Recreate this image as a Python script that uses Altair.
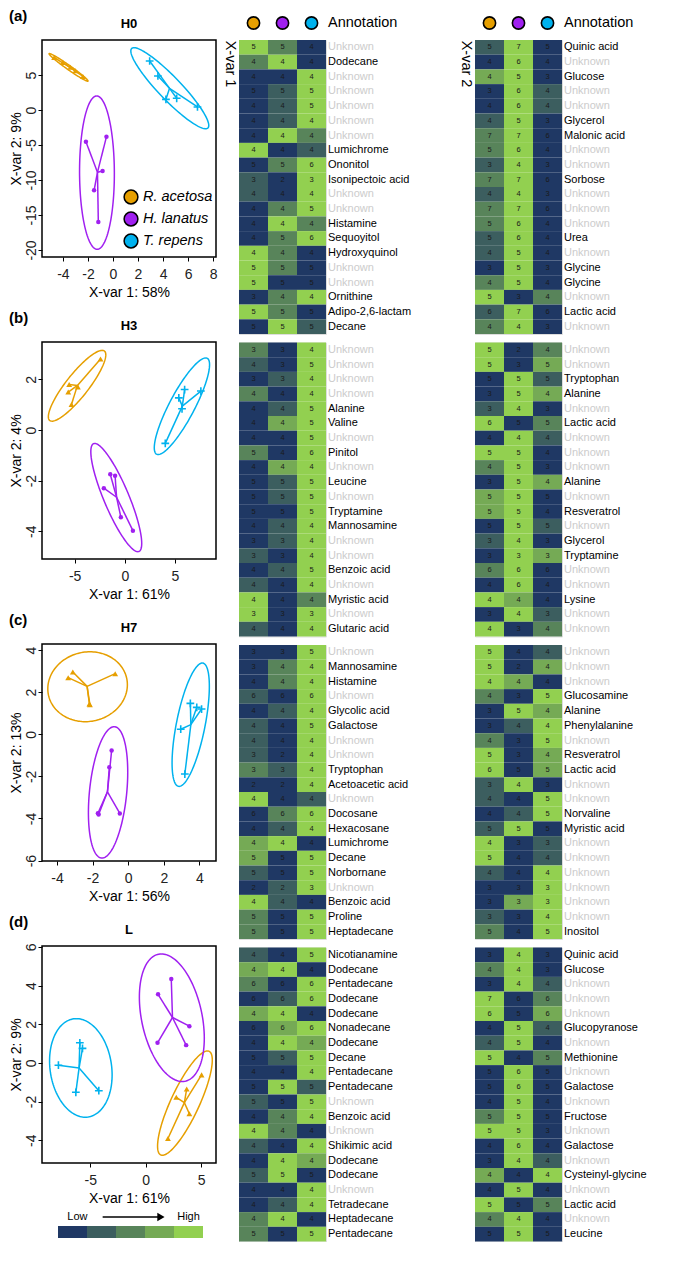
import numpy as np
import pandas as pd
import altair as alt

FONT = "Liberation Sans"

GROUPS = ["R. acetosa", "H. lanatus", "T. repens"]
GROUP_COLORS = ["#E69F00", "#A020F0", "#00B2EE"]
PLUS = "M-1,0L1,0M0,-1L0,1"
HEAT_LEVELS = [1, 2, 3, 4, 5]
HEAT_COLORS = ["#1F3864", "#3C5E5F", "#58845A", "#75AA55", "#92D050"]

PANEL_NAMES = ["H0", "H3", "H7", "L"]
PANEL_TAGS = ["(a)", "(b)", "(c)", "(d)"]
X_TITLES = ["X-var 1: 58%", "X-var 1: 61%", "X-var 1: 56%", "X-var 1: 61%"]
Y_TITLES = ["X-var 2: 9%", "X-var 2: 4%", "X-var 2: 13%", "X-var 2: 9%"]
X_DOMAINS = [[-5.67, 8.23], [-8.26, 9.1], [-4.84, 4.93], [-9.35, 6.33]]
Y_DOMAINS = [[-21.0, 10.0], [-5.1, 3.48], [-6.02, 4.29], [-5.18, 6.05]]
X_TICKS = [[-4, -2, 0, 2, 4, 6, 8], [-5, 0, 5], [-4, -2, 0, 2, 4], [-5, 0, 5]]
Y_TICKS = [[-20, -15, -10, -5, 0, 5], [-4, -2, 0, 2], [-6, -4, -2, 0, 2, 4], [-4, -2, 0, 2, 4, 6]]

# ---- sample scores (x, y) per panel and group ----
H0_RA_X = [-4.7, -4.0, -3.4, -3.0, -2.4]
H0_RA_Y = [7.5, 6.8, 6.1, 5.6, 4.8]
H0_HL_X = [-2.16, -0.52, -0.83, -1.51, -1.17]
H0_HL_Y = [-4.53, -3.81, -8.71, -11.47, -16.0]
H0_TR_X = [2.93, 3.59, 4.23, 5.09, 6.75]
H0_TR_Y = [7.0, 4.86, 1.52, 1.67, 0.43]

H3_RA_X = [-2.42, -5.55, -5.64, -4.68, -5.32]
H3_RA_Y = [2.81, 1.80, 1.50, 1.70, 1.01]
H3_HL_X = [-2.09, -1.45, -0.97, -0.39, 0.81]
H3_HL_Y = [-2.30, -1.75, -1.81, -3.45, -3.98]
H3_TR_X = [4.04, 5.39, 5.97, 5.71, 7.59]
H3_TR_Y = [-0.53, 1.27, 1.60, 0.84, 1.54]

H7_RA_X = [-3.37, -3.11, -0.73, -2.15, -2.18]
H7_RA_Y = [2.69, 2.96, 2.88, 1.41, 1.44]
H7_HL_X = [-0.93, -1.06, -1.66, -1.70, -0.47]
H7_HL_Y = [-0.77, -1.57, -3.81, -3.75, -3.76]
H7_TR_X = [3.49, 3.85, 4.12, 2.95, 3.18]
H7_TR_Y = [1.47, 1.28, 1.20, 0.24, -1.89]

L_RA_X = [5.03, 3.69, 2.75, 3.93, 2.0]
L_RA_Y = [-0.62, -1.35, -1.78, -2.63, -3.91]
L_HL_X = [2.3, 1.11, 3.93, 1.06, 3.64]
L_HL_Y = [4.34, 3.55, 1.9, 1.04, 0.92]
L_TR_X = [-5.94, -5.7, -7.87, -6.3, -4.23]
L_TR_Y = [1.04, 0.75, -0.12, -1.52, -1.44]

# ---- confidence ellipses: centre (cx, cy) and conjugate half-axes u, v ----
H0_ELL = [[-3.55, 6.09, -1.53, 1.98, 0.29, 0.0],
          [-1.28, -8.95, -0.02, 10.95, 1.39, 0.0],
          [4.54, 3.11, -2.86, 5.79, 1.23, 0.0]]
H3_ELL = [[-4.76, 1.75, 2.5, 1.4, 1.4, 0.0],
          [-0.85, -2.67, -2.15, 2.14, 1.35, 0.0],
          [5.7, 0.94, 2.37, 1.91, 1.41, 0.0]]
H7_ELL = [[-2.28, 2.26, 0.13, 1.66, 2.23, 0.0],
          [-1.13, -2.76, 0.34, 3.12, 1.05, 0.0],
          [3.51, 0.455, 0.65, 2.93, 0.82, 0.0]]
L_ELL = [[3.53, -2.08, 2.03, 2.7, 1.4, 0.0],
         [2.35, 2.34, -0.94, 3.3, 2.77, 0.0],
         [-5.85, -0.26, -0.4, 2.55, 2.79, 0.0]]

PANEL_POINTS = [
    [(H0_RA_X, H0_RA_Y), (H0_HL_X, H0_HL_Y), (H0_TR_X, H0_TR_Y)],
    [(H3_RA_X, H3_RA_Y), (H3_HL_X, H3_HL_Y), (H3_TR_X, H3_TR_Y)],
    [(H7_RA_X, H7_RA_Y), (H7_HL_X, H7_HL_Y), (H7_TR_X, H7_TR_Y)],
    [(L_RA_X, L_RA_Y), (L_HL_X, L_HL_Y), (L_TR_X, L_TR_Y)],
]
PANEL_ELLIPSES = [H0_ELL, H3_ELL, H7_ELL, L_ELL]

# ---- heatmaps: annotation, cell values, colour levels (1 = low ... 5 = high) ----
H0_X1_NAMES = ["Unknown", "Dodecane", "Unknown", "Unknown", "Unknown", "Unknown", "Unknown",
               "Lumichrome", "Ononitol", "Isonipectoic acid", "Unknown", "Unknown", "Histamine",
               "Sequoyitol", "Hydroxyquinol", "Unknown", "Unknown", "Ornithine",
               "Adipo-2,6-lactam", "Decane"]
H0_X1_VALUES = [[5, 5, 4], [4, 4, 4], [4, 4, 4], [5, 5, 5], [4, 4, 5], [4, 4, 4], [4, 4, 4],
                [4, 4, 4], [5, 5, 6], [3, 2, 3], [4, 4, 4], [4, 4, 5], [4, 4, 4], [4, 5, 6],
                [4, 4, 4], [5, 5, 5], [5, 5, 5], [3, 4, 4], [5, 5, 5], [5, 5, 5]]
H0_X1_LEVELS = [[5, 3, 1], [3, 5, 1], [1, 1, 5], [1, 2, 5], [1, 2, 5], [1, 2, 5], [1, 5, 3],
                [5, 1, 2], [1, 3, 5], [2, 1, 5], [2, 1, 5], [1, 3, 5], [1, 5, 3], [1, 3, 5],
                [5, 3, 1], [5, 3, 1], [5, 1, 1], [1, 3, 5], [5, 3, 1], [1, 5, 2]]

H0_X2_NAMES = ["Quinic acid", "Unknown", "Glucose", "Unknown", "Unknown", "Glycerol",
               "Malonic acid", "Unknown", "Unknown", "Sorbose", "Unknown", "Unknown", "Unknown",
               "Urea", "Unknown", "Glycine", "Glycine", "Unknown", "Lactic acid", "Unknown"]
H0_X2_VALUES = [[5, 7, 5], [4, 6, 4], [4, 5, 3], [3, 6, 4], [4, 6, 4], [4, 5, 3], [7, 7, 6],
                [5, 6, 4], [3, 4, 3], [7, 7, 6], [4, 4, 3], [7, 7, 6], [5, 6, 4], [5, 6, 4],
                [4, 5, 4], [3, 5, 3], [4, 5, 4], [5, 3, 4], [6, 7, 6], [4, 4, 3]]
H0_X2_LEVELS = [[2, 5, 1], [1, 5, 1], [4, 5, 1], [1, 5, 2], [1, 5, 2], [2, 5, 1], [3, 5, 1],
                [3, 5, 1], [2, 5, 1], [3, 5, 1], [2, 5, 1], [3, 5, 1], [3, 5, 1], [2, 5, 1],
                [2, 5, 1], [1, 5, 1], [3, 5, 1], [5, 1, 3], [2, 5, 1], [3, 5, 1]]

H3_X1_NAMES = ["Unknown", "Unknown", "Unknown", "Unknown", "Alanine", "Valine", "Unknown",
               "Pinitol", "Unknown", "Leucine", "Unknown", "Tryptamine", "Mannosamine", "Unknown",
               "Unknown", "Benzoic acid", "Unknown", "Myristic acid", "Unknown", "Glutaric acid"]
H3_X1_VALUES = [[3, 3, 4], [4, 3, 5], [3, 3, 4], [4, 4, 4], [4, 4, 5], [4, 4, 5], [4, 4, 5],
                [5, 4, 6], [4, 4, 4], [5, 5, 5], [5, 5, 5], [5, 5, 5], [4, 4, 4], [3, 3, 4],
                [3, 3, 4], [4, 4, 5], [4, 4, 4], [4, 4, 4], [3, 3, 3], [4, 4, 4]]
H3_X1_LEVELS = [[3, 1, 5], [2, 1, 5], [1, 2, 5], [3, 1, 5], [1, 2, 5], [1, 4, 5], [1, 1, 5],
                [3, 1, 5], [1, 4, 5], [1, 2, 5], [1, 2, 5], [1, 1, 5], [1, 2, 5], [1, 2, 5],
                [2, 1, 5], [1, 2, 5], [2, 1, 5], [5, 1, 3], [5, 1, 5], [2, 1, 5]]

H3_X2_NAMES = ["Unknown", "Unknown", "Tryptophan", "Alanine", "Unknown", "Lactic acid",
               "Unknown", "Unknown", "Unknown", "Alanine", "Unknown", "Resveratrol", "Unknown",
               "Glycerol", "Tryptamine", "Unknown", "Unknown", "Lysine", "Unknown", "Unknown"]
H3_X2_VALUES = [[5, 2, 4], [5, 3, 5], [5, 5, 5], [3, 5, 4], [3, 4, 3], [6, 5, 5], [4, 4, 4],
                [5, 5, 4], [4, 5, 3], [3, 5, 4], [5, 5, 5], [5, 5, 4], [5, 5, 5], [3, 4, 3],
                [3, 3, 3], [6, 6, 6], [4, 6, 4], [4, 4, 4], [3, 4, 3], [4, 3, 4]]
H3_X2_LEVELS = [[5, 1, 3], [5, 1, 4], [1, 5, 2], [1, 5, 4], [2, 5, 1], [5, 1, 3], [1, 5, 2],
                [5, 5, 1], [3, 5, 1], [1, 5, 4], [4, 5, 1], [4, 5, 1], [1, 5, 2], [2, 5, 1],
                [1, 5, 4], [3, 5, 1], [1, 5, 1], [5, 4, 1], [1, 5, 2], [5, 1, 3]]

H7_X1_NAMES = ["Unknown", "Mannosamine", "Histamine", "Unknown", "Glycolic acid", "Galactose",
               "Unknown", "Unknown", "Tryptophan", "Acetoacetic acid", "Unknown", "Docosane",
               "Hexacosane", "Lumichrome", "Decane", "Norbornane", "Unknown", "Benzoic acid",
               "Proline", "Heptadecane"]
H7_X1_VALUES = [[3, 3, 5], [3, 4, 4], [4, 4, 4], [6, 6, 6], [4, 4, 4], [4, 4, 5], [4, 4, 4],
                [3, 2, 4], [3, 3, 4], [2, 2, 4], [4, 4, 4], [6, 6, 6], [4, 4, 4], [4, 4, 4],
                [5, 5, 5], [5, 5, 5], [2, 2, 3], [4, 4, 4], [5, 5, 5], [5, 5, 5]]
H7_X1_LEVELS = [[1, 1, 5], [1, 3, 5], [1, 3, 5], [2, 1, 5], [1, 2, 5], [2, 1, 5], [2, 1, 5],
                [2, 1, 5], [3, 2, 5], [1, 1, 5], [5, 1, 2], [1, 3, 5], [1, 2, 5], [4, 5, 1],
                [4, 1, 5], [2, 1, 5], [1, 2, 5], [5, 2, 1], [3, 1, 5], [3, 1, 5]]

H7_X2_NAMES = ["Unknown", "Unknown", "Unknown", "Glucosamine", "Alanine", "Phenylalanine",
               "Unknown", "Resveratrol", "Lactic acid", "Unknown", "Unknown", "Norvaline",
               "Myristic acid", "Unknown", "Unknown", "Unknown", "Unknown", "Unknown", "Unknown",
               "Inositol"]
H7_X2_VALUES = [[5, 4, 4], [5, 2, 4], [4, 4, 4], [4, 3, 5], [3, 5, 4], [3, 4, 4], [4, 3, 5],
                [5, 3, 4], [6, 5, 5], [3, 4, 3], [4, 4, 5], [4, 4, 5], [5, 5, 5], [4, 3, 3],
                [5, 4, 4], [4, 4, 4], [3, 3, 3], [3, 3, 3], [3, 3, 4], [5, 4, 5]]
H7_X2_LEVELS = [[5, 1, 2], [5, 1, 4], [5, 4, 1], [3, 1, 5], [1, 5, 4], [1, 2, 5], [3, 1, 5],
                [5, 1, 4], [5, 1, 4], [2, 5, 1], [2, 1, 5], [1, 2, 5], [2, 5, 1], [5, 1, 2],
                [5, 1, 2], [2, 1, 5], [1, 1, 5], [1, 4, 5], [2, 1, 5], [3, 1, 5]]

L_X1_NAMES = ["Nicotianamine", "Dodecane", "Pentadecane", "Dodecane", "Dodecane", "Nonadecane",
              "Dodecane", "Decane", "Pentadecane", "Pentadecane", "Unknown", "Benzoic acid",
              "Unknown", "Shikimic acid", "Dodecane", "Dodecane", "Unknown", "Tetradecane",
              "Heptadecane", "Pentadecane"]
L_X1_VALUES = [[4, 4, 5], [4, 4, 4], [6, 6, 6], [6, 6, 6], [4, 4, 4], [6, 6, 6], [4, 4, 4],
               [5, 5, 5], [4, 4, 4], [5, 5, 5], [5, 5, 5], [4, 4, 4], [4, 4, 4], [4, 4, 4],
               [4, 4, 4], [5, 5, 5], [4, 4, 4], [4, 4, 4], [4, 4, 4], [5, 5, 5]]
L_X1_LEVELS = [[2, 1, 5], [4, 5, 1], [3, 1, 5], [1, 2, 5], [4, 5, 1], [1, 4, 5], [1, 5, 4],
               [1, 2, 5], [1, 1, 5], [1, 5, 2], [2, 1, 5], [1, 3, 5], [5, 3, 1], [2, 1, 5],
               [1, 5, 4], [2, 5, 1], [1, 1, 5], [1, 2, 5], [3, 5, 1], [3, 1, 5]]

L_X2_NAMES = ["Quinic acid", "Glucose", "Unknown", "Unknown", "Unknown", "Glucopyranose",
              "Unknown", "Methionine", "Unknown", "Galactose", "Unknown", "Fructose", "Unknown",
              "Galactose", "Unknown", "Cysteinyl-glycine", "Unknown", "Lactic acid", "Unknown",
              "Leucine"]
L_X2_VALUES = [[3, 4, 3], [4, 4, 3], [3, 4, 4], [7, 6, 6], [6, 5, 6], [4, 5, 4], [4, 5, 4],
               [5, 4, 5], [5, 6, 5], [5, 6, 5], [4, 5, 4], [5, 5, 5], [5, 5, 3], [4, 6, 4],
               [3, 4, 4], [4, 4, 4], [4, 5, 4], [5, 5, 5], [4, 4, 4], [5, 5, 5]]
L_X2_LEVELS = [[1, 5, 1], [3, 5, 1], [1, 5, 2], [5, 1, 3], [5, 1, 4], [1, 5, 2], [2, 5, 1],
               [5, 1, 3], [1, 5, 1], [1, 5, 1], [1, 5, 1], [3, 5, 1], [5, 5, 1], [1, 5, 1],
               [1, 5, 2], [4, 1, 5], [1, 5, 1], [5, 1, 3], [3, 5, 1], [1, 5, 1]]

X1_BLOCKS = [(H0_X1_NAMES, H0_X1_VALUES, H0_X1_LEVELS), (H3_X1_NAMES, H3_X1_VALUES, H3_X1_LEVELS),
             (H7_X1_NAMES, H7_X1_VALUES, H7_X1_LEVELS), (L_X1_NAMES, L_X1_VALUES, L_X1_LEVELS)]
X2_BLOCKS = [(H0_X2_NAMES, H0_X2_VALUES, H0_X2_LEVELS), (H3_X2_NAMES, H3_X2_VALUES, H3_X2_LEVELS),
             (H7_X2_NAMES, H7_X2_VALUES, H7_X2_LEVELS), (L_X2_NAMES, L_X2_VALUES, L_X2_LEVELS)]

# colour key (Low -> High)
KEY_TEXT = ["Low", "High"]
KEY_TEXT_POS = [1.17, 5.0]
KEY_ARROW = [2.04, 4.0]
KEY_ARROW_HEAD = [4.05]

# ---------------- layout constants ----------------
PW, PH = 174, 217          # scatter plot area
HW, HH = 87, 294           # heatmap block
LEG_X, LEG_Y0, LEG_DY = 89, 157, 22   # in-panel legend placement (pixels)
KEY_OFFSET, KEY_CELL = 16.0, 29.0     # colour key placement (pixels)
CSCALE = alt.Scale(domain=GROUPS, range=GROUP_COLORS)


def scatter(i):
    rows = []
    for g, (xs, ys) in zip(GROUPS, PANEL_POINTS[i]):
        for x, y in zip(xs, ys):
            rows.append({"group": g, "x": x, "y": y})
    pts = pd.DataFrame(rows)
    cen = pts.groupby("group", as_index=False)[["x", "y"]].mean().rename(columns={"x": "cx", "y": "cy"})
    star = pts.merge(cen, on="group")

    t = np.linspace(0, 2 * np.pi, 145)
    erows = []
    for g, (cx, cy, ux, uy, vx, vy) in zip(GROUPS, PANEL_ELLIPSES[i]):
        for k, tt in enumerate(t):
            erows.append({"group": g, "t": k,
                          "x": cx + ux * np.cos(tt) + vx * np.sin(tt),
                          "y": cy + uy * np.cos(tt) + vy * np.sin(tt)})
    ell = pd.DataFrame(erows)

    xsc = alt.Scale(domain=X_DOMAINS[i], nice=False, zero=False)
    ysc = alt.Scale(domain=Y_DOMAINS[i], nice=False, zero=False)
    common = dict(grid=False, domain=False, tickSize=4, tickColor="black", tickWidth=1,
                  labelFontSize=14, titleFontSize=14, labelFont=FONT, titleFont=FONT,
                  titleFontWeight="normal", labelColor="#222222", titleColor="black",
                  labelExpr="'' + datum.value", labelFlush=False, labelOverlap=False)
    xax = alt.Axis(values=X_TICKS[i], title=X_TITLES[i], labelPadding=6, titlePadding=4, **common)
    yax = alt.Axis(values=Y_TICKS[i], title=Y_TITLES[i], labelAngle=270, labelAlign="center",
                   labelBaseline="bottom", labelPadding=0, titlePadding=1, **common)

    def X(f):
        return alt.X(f + ":Q", scale=xsc, axis=xax)

    def Y(f):
        return alt.Y(f + ":Q", scale=ysc, axis=yax)

    col = alt.Color("group:N", scale=CSCALE, legend=None)

    lines = alt.Chart(ell).mark_line(strokeWidth=1.5).encode(
        x=X("x"), y=Y("y"), color=col, detail="group:N", order="t:Q")
    rules = alt.Chart(star).mark_rule(strokeWidth=1.5).encode(
        x=X("cx"), y=Y("cy"), x2="x:Q", y2="y:Q", color=col)
    tri = alt.Chart(pts[pts.group == GROUPS[0]]).mark_point(
        shape="triangle-up", filled=True, opacity=1, size=34).encode(x=X("x"), y=Y("y"), color=col)
    dot = alt.Chart(pts[pts.group == GROUPS[1]]).mark_point(
        shape="circle", filled=True, opacity=1, size=20).encode(x=X("x"), y=Y("y"), color=col)
    crs = alt.Chart(pts[pts.group == GROUPS[2]]).mark_point(
        shape=PLUS, filled=False, opacity=1, size=60, strokeWidth=1.6).encode(x=X("x"), y=Y("y"), color=col)
    tag = alt.Chart(pd.DataFrame({"tag": [PANEL_TAGS[i]]})).mark_text(
        align="left", baseline="middle", fontSize=15, fontWeight="bold", font=FONT, color="black"
    ).encode(x=alt.value(-33), y=alt.value(-24), text="tag:N")
    ttl = alt.Chart(pd.DataFrame({"t": [PANEL_NAMES[i]]})).mark_text(
        align="center", baseline="alphabetic", fontSize=13, fontWeight="bold", font=FONT, color="black"
    ).encode(x=alt.value(PW / 2), y=alt.value(-12), text="t:N")

    layers = [lines, rules, tri, dot, crs, tag, ttl]
    if i == 0:
        for k, g in enumerate(GROUPS):
            gdf = pd.DataFrame({"group": [g]})
            layers.append(alt.Chart(gdf).mark_point(
                shape="circle", filled=True, size=190, opacity=1, stroke="black", strokeWidth=1.5
            ).encode(x=alt.value(LEG_X), y=alt.value(LEG_Y0 + k * LEG_DY), color=col))
            layers.append(alt.Chart(gdf).mark_text(
                align="left", baseline="middle", fontSize=14.5, fontStyle="italic", font=FONT,
                color="black").encode(x=alt.value(LEG_X + 12), y=alt.value(LEG_Y0 + k * LEG_DY),
                                      text="group:N"))

    return alt.layer(*layers).properties(
        width=PW, height=PH, view=alt.ViewBackground(stroke="black", strokeWidth=1.5))


def heat_block(names, values, levels, first, side_label):
    rows = []
    for r in range(len(names)):
        for c in range(3):
            rows.append({"row": r, "col": c, "value": values[r][c], "level": levels[r][c]})
    df = pd.DataFrame(rows)
    ann = pd.DataFrame({"row": list(range(len(names))), "name": names,
                        "unknown": [n == "Unknown" for n in names]})
    X = alt.X("col:O", axis=None, scale=alt.Scale(paddingInner=0, paddingOuter=0))
    Y = alt.Y("row:O", axis=None, scale=alt.Scale(paddingInner=0, paddingOuter=0))
    rect = alt.Chart(df).mark_rect().encode(
        x=X, y=Y, fill=alt.Fill("level:O", scale=alt.Scale(domain=HEAT_LEVELS, range=HEAT_COLORS),
                                legend=None))
    txt = alt.Chart(df).mark_text(fontSize=7.5, font=FONT, color="#1a1a1a").encode(
        x=X, y=Y, text="value:Q")
    lab = alt.Chart(ann).mark_text(align="left", baseline="middle", fontSize=11, font=FONT).encode(
        x=alt.value(HW + 2), y=Y, text="name:N",
        color=alt.condition("datum.unknown", alt.value("#cccccc"), alt.value("black")))
    layers = [rect, txt, lab]
    if first:
        hdr = pd.DataFrame({"col": [0, 1, 2], "group": GROUPS})
        circ = alt.Chart(hdr).mark_point(shape="circle", filled=True, size=150, opacity=1,
                                         stroke="black", strokeWidth=1.6).encode(
            x=X, y=alt.value(-17), color=alt.Color("group:N", scale=CSCALE, legend=None))
        head = alt.Chart(pd.DataFrame({"t": ["Annotation"]})).mark_text(
            align="left", baseline="middle", fontSize=14.5, font=FONT, color="black").encode(
            x=alt.value(HW + 2), y=alt.value(-17), text="t:N")
        side = alt.Chart(pd.DataFrame({"t": [side_label]})).mark_text(
            align="center", baseline="middle", angle=90, fontSize=14.5, font=FONT, color="black"
        ).encode(x=alt.value(-9), y=alt.value(24), text="t:N")
        layers += [circ, head, side]
    return alt.layer(*layers).properties(width=HW, height=HH)


def colour_key():
    x0 = 0.5 - KEY_OFFSET / KEY_CELL
    dom = [x0, x0 + PW / KEY_CELL]
    kdf = pd.DataFrame({"level": HEAT_LEVELS})
    xsc = alt.Scale(domain=dom, nice=False, zero=False)
    bar = alt.Chart(kdf).transform_calculate(lo="datum.level - 0.5", hi="datum.level + 0.5").mark_rect().encode(
        x=alt.X("lo:Q", scale=xsc, axis=None), x2="hi:Q", y=alt.value(0), y2=alt.value(12),
        fill=alt.Fill("level:O", scale=alt.Scale(domain=HEAT_LEVELS, range=HEAT_COLORS), legend=None))
    txt = alt.Chart(pd.DataFrame({"t": KEY_TEXT, "p": KEY_TEXT_POS})).mark_text(
        fontSize=11, font=FONT, color="black", baseline="middle").encode(
        x="p:Q", y=alt.value(-9), text="t:N")
    arrow = alt.Chart(pd.DataFrame({"a": [KEY_ARROW[0]], "b": [KEY_ARROW[1]]})).mark_rule(
        strokeWidth=1.5, color="black").encode(x="a:Q", x2="b:Q", y=alt.value(-9))
    head = alt.Chart(pd.DataFrame({"h": KEY_ARROW_HEAD})).mark_point(
        shape="triangle-right", filled=True, size=70, color="black", opacity=1).encode(
        x="h:Q", y=alt.value(-9))
    return alt.layer(bar, arrow, head, txt).properties(width=PW, height=12,
                                                         view=alt.ViewBackground(stroke="transparent"))


scatters = alt.vconcat(*[scatter(i) for i in range(4)], spacing=10)
colA = alt.vconcat(scatters, colour_key(), spacing=4).resolve_scale(
    fill="independent", color="independent")
colB = alt.vconcat(*[heat_block(n, v, l, k == 0, "X-var 1") for k, (n, v, l) in enumerate(X1_BLOCKS)],
                   spacing=6.5)
colC = alt.vconcat(*[heat_block(n, v, l, k == 0, "X-var 2") for k, (n, v, l) in enumerate(X2_BLOCKS)],
                   spacing=6.5)

inner = alt.hconcat(colA, colB, spacing=4).resolve_scale(fill="independent", color="independent")
chart = alt.hconcat(inner, colC, spacing=46).resolve_scale(
    fill="independent", color="independent").properties(padding=0).configure_view(
    stroke="transparent").configure(font=FONT)

chart.save("out.html", embed_options={"renderer": "svg", "actions": False})
